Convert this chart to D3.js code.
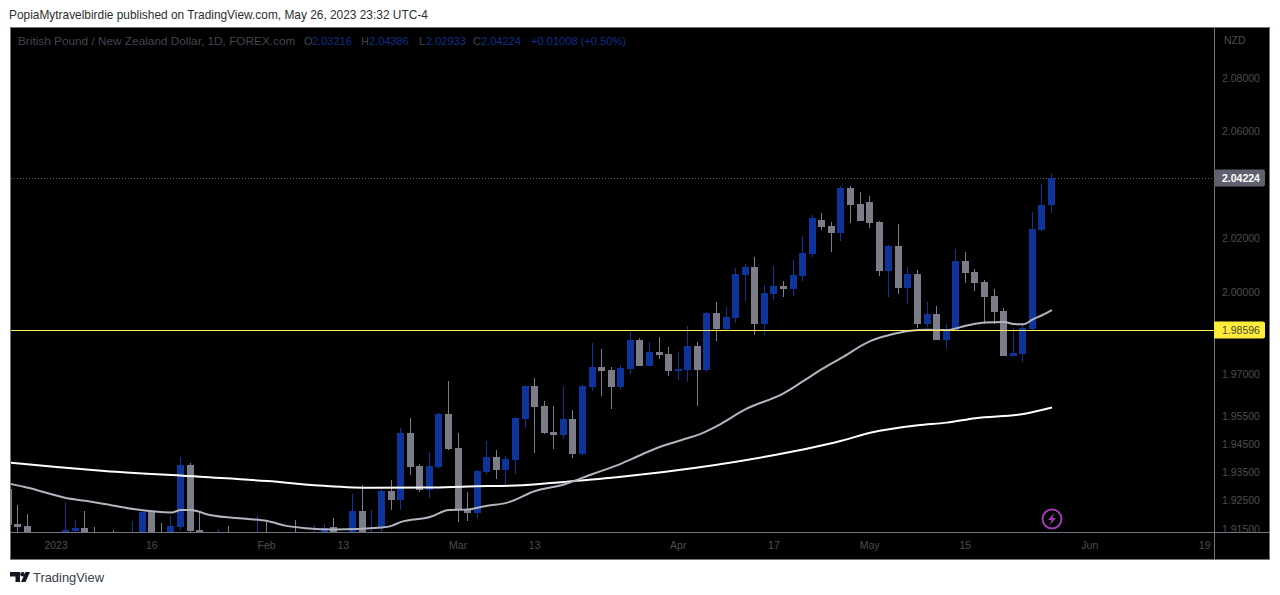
<!DOCTYPE html>
<html>
<head>
<meta charset="utf-8">
<script src="https://cdn.jsdelivr.net/npm/d3@7"></script>
<style>
  html, body { margin: 0; padding: 0; background: #fff; }
  svg { display: block; font-family: "Liberation Sans", sans-serif; }
</style>
</head>
<body>
<svg id="chart" width="1280" height="595"></svg>
<script>
// daily bars, index 0 = Jan 2 2023, weekdays only. bars fully under the pane are left out
const barIndex = [-5,-4,-3,1,2,3,4,6,8,9,10,11,12,13,14,15,17,18,21,22,25,27,28,29,31,32,33,34,35,36,37,38,39,40,41,42,43,44,45,46,47,48,49,50,51,52,53,54,55,56,57,58,59,60,61,62,63,64,65,66,67,68,69,70,71,72,73,74,75,76,77,78,79,80,81,82,83,84,85,86,87,88,89,90,91,92,93,94,95,96,97,98,99,100,101,102,103,104];
const opens = [1.9291,1.9168,1.9161,1.9126,1.9143,1.9154,1.9130,1.9128,1.9122,1.9126,1.9210,1.9130,1.9126,1.9157,1.9376,1.9147,1.9122,1.9130,1.9122,1.9130,1.9130,1.9122,1.9126,1.9157,1.9126,1.9214,1.9122,1.9157,1.9284,1.9252,1.9490,1.9372,1.9287,1.9369,1.9558,1.9436,1.9217,1.9207,1.9351,1.9404,1.9358,1.9394,1.9540,1.9658,1.9587,1.9493,1.9483,1.9540,1.9415,1.9655,1.9727,1.9716,1.9655,1.9720,1.9825,1.9730,1.9781,1.9774,1.9712,1.9716,1.9803,1.9716,1.9923,1.9865,1.9905,2.0063,2.0092,1.9883,1.9993,2.0022,2.0011,2.0059,2.0140,2.0266,2.0243,2.0217,2.0385,2.0325,2.0333,2.0258,2.0077,2.0169,2.0015,2.0066,1.9883,1.9920,1.9825,1.9858,2.0114,2.0074,2.0037,1.9985,1.9931,1.9767,1.9774,1.9865,2.0228,2.03216];
const highs = [1.9295,1.9234,1.9203,1.9245,1.9182,1.9214,1.9157,1.9147,1.9178,1.9210,1.9210,1.9171,1.9196,1.9404,1.9383,1.9207,1.9150,1.9161,1.9200,1.9175,1.9182,1.9164,1.9168,1.9189,1.9273,1.9305,1.9217,1.9291,1.9323,1.9508,1.9543,1.9380,1.9422,1.9561,1.9676,1.9490,1.9280,1.9358,1.9461,1.9429,1.9408,1.9547,1.9662,1.9687,1.9604,1.9587,1.9658,1.9572,1.9662,1.9814,1.9792,1.9727,1.9734,1.9854,1.9832,1.9818,1.9836,1.9799,1.9781,1.9876,1.9818,1.9927,1.9963,1.9945,2.0088,2.0103,2.0129,2.0026,2.0096,2.0040,2.0118,2.0206,2.0284,2.0292,2.0258,2.0393,2.0393,2.0370,2.0355,2.0262,2.0173,2.0251,2.0092,2.0081,1.9963,1.9949,1.9883,2.0158,2.0147,2.0085,2.0044,2.0011,1.9941,1.9869,1.9880,2.0296,2.0400,2.04386];
const lows = [1.9157,1.9126,1.9112,1.9112,1.9126,1.9112,1.9112,1.9112,1.9112,1.9112,1.9112,1.9112,1.9112,1.9147,1.9140,1.9112,1.9112,1.9112,1.9112,1.9112,1.9112,1.9112,1.9112,1.9112,1.9112,1.9112,1.9112,1.9135,1.9217,1.9217,1.9340,1.9280,1.9259,1.9362,1.9429,1.9175,1.9178,1.9189,1.9344,1.9326,1.9302,1.9344,1.9508,1.9418,1.9486,1.9433,1.9468,1.9401,1.9411,1.9640,1.9622,1.9576,1.9644,1.9702,1.9730,1.9730,1.9756,1.9694,1.9680,1.9673,1.9587,1.9709,1.9821,1.9858,1.9887,1.9967,1.9843,1.9843,1.9971,1.9982,1.9985,2.0040,2.0129,2.0228,2.0147,2.0187,2.0254,2.0262,2.0236,2.0059,1.9982,1.9993,1.9956,1.9869,1.9872,1.9825,1.9792,1.9858,2.0033,2.0004,1.9883,1.9883,1.9767,1.9767,1.9745,1.9858,2.0225,2.02933];
const closes = [1.9164,1.9157,1.9126,1.9147,1.9154,1.9126,1.9122,1.9122,1.9130,1.9210,1.9126,1.9126,1.9161,1.9376,1.9143,1.9126,1.9130,1.9122,1.9130,1.9122,1.9122,1.9130,1.9154,1.9126,1.9214,1.9126,1.9135,1.9284,1.9252,1.9490,1.9369,1.9287,1.9372,1.9558,1.9433,1.9217,1.9207,1.9355,1.9404,1.9358,1.9397,1.9543,1.9658,1.9583,1.9490,1.9483,1.9540,1.9415,1.9658,1.9727,1.9712,1.9655,1.9723,1.9825,1.9730,1.9781,1.9770,1.9712,1.9720,1.9803,1.9716,1.9923,1.9865,1.9909,2.0066,2.0092,1.9883,1.9996,2.0022,2.0011,2.0063,2.0144,2.0273,2.0240,2.0217,2.0385,2.0321,2.0262,2.0254,2.0077,2.0169,2.0015,2.0066,1.9883,1.9920,1.9825,1.9858,2.0114,2.0070,2.0033,1.9982,1.9927,1.9767,1.9777,1.9869,2.0232,2.0321,2.04224];

// moving averages, read at the bars listed
const slowIndex = [-5,0,5,15,22,28,33,39,43,48,53,59,67,74,78,82,85,90,93,96,101,104];
const slowMa = [1.9385,1.9369,1.9355,1.9334,1.9319,1.9302,1.9295,1.9296,1.9300,1.9303,1.9316,1.9334,1.9367,1.9405,1.9431,1.9462,1.9491,1.9518,1.9527,1.9543,1.9558,1.9581];
const fastIndex = [-5,-3,-1,1,3,5,8,12,13,14,16,20,22,24,26,29,34,35,36,39,41,43,45,47,50,53,56,59,60,63,66,67,69,72,76,78,80,82,85,87,89,91,93,95,97,99,100,101,102,103,104];
const fastMa = [1.9310,1.9295,1.9277,1.9259,1.9249,1.9238,1.9220,1.9208,1.9217,1.9217,1.9199,1.9185,1.9178,1.9161,1.9153,1.9148,1.9155,1.9161,1.9175,1.9192,1.9217,1.9219,1.9232,1.9242,1.9284,1.9307,1.9344,1.9381,1.9396,1.9440,1.9472,1.9483,1.9515,1.9575,1.9633,1.9676,1.9720,1.9760,1.9821,1.9843,1.9858,1.9862,1.9861,1.9877,1.9889,1.9890,1.9883,1.9882,1.9900,1.9916,1.9934];

const priceTicks = [2.08, 2.06, 2.02, 2.00, 1.97, 1.955, 1.945, 1.935, 1.925, 1.915];
const dateTickIndex = [0, 10, 22, 30, 42, 50, 65, 75, 85, 95, 108, 120];
const dateTickLabels = ["2023", "16", "Feb", "13", "Mar", "13", "Apr", "17", "May", "15", "Jun", "19"];

const lastPrice = 2.04224;
const levelPrice = 1.98596;
const legendTitle = "British Pound / New Zealand Dollar, 1D, FOREX.com";
const legendLabels = ["O", "H", "L", "C"];
const legendValues = ["2.03216", "2.04386", "2.02933", "2.04224"];
const legendChange = "+0.01008 (+0.50%)";
const publishedText = "PopiaMytravelbirdie published on TradingView.com, May 26, 2023 23:32 UTC-4";

const upColor = "#0e339b";
const downColor = "#7b7e89";
const axisText = "#4d4d50";
const frameColor = "#73757f";

const svg = d3.select("#chart");
const paneRight = 1214, paneBottom = 532;

const x = d3.scaleLinear().domain([0, 104]).range([56.1, 1051.5]);
const y = d3.scaleLog().domain([2.08, 1.915]).range([78, 529]);

svg.append("rect").attr("x", 10).attr("y", 27).attr("width", 1260).attr("height", 533).attr("fill", "#000");

const defs = svg.append("defs");
defs.append("clipPath").attr("id", "pane").append("rect")
  .attr("x", 11).attr("y", 28).attr("width", paneRight - 11).attr("height", paneBottom - 28);
defs.append("clipPath").attr("id", "scale").append("rect")
  .attr("x", paneRight).attr("y", 28).attr("width", 56).attr("height", paneBottom - 28);

// right price scale
const yAxis = d3.axisRight(y).tickValues(priceTicks).tickFormat(d3.format(".5f")).tickSize(0).tickPadding(8);
const yG = svg.append("g").attr("clip-path", "url(#scale)")
  .append("g").attr("transform", `translate(${paneRight},0)`).call(yAxis);
yG.select(".domain").remove();
yG.selectAll("text").attr("fill", axisText).attr("font-size", 10.5).attr("font-family", '"Liberation Sans", sans-serif');

// time scale
const xAxis = d3.axisBottom(x).tickValues(dateTickIndex)
  .tickFormat((d, i) => dateTickLabels[i]).tickSize(0).tickPadding(10);
const xG = svg.append("g").attr("transform", `translate(-0.5,${paneBottom})`).call(xAxis);
xG.select(".domain").remove();
xG.selectAll("text").attr("fill", axisText).attr("font-size", 10.5).attr("font-family", '"Liberation Sans", sans-serif');

const pane = svg.append("g").attr("clip-path", "url(#pane)");

// dotted last price line
pane.append("line")
  .attr("x1", 11).attr("x2", paneRight)
  .attr("y1", Math.round(y(lastPrice)) + 0.5).attr("y2", Math.round(y(lastPrice)) + 0.5)
  .attr("stroke", "#5c5e68").attr("stroke-dasharray", "1 2");

const bars = barIndex.map((d, i) => ({ i: d, o: opens[i], h: highs[i], l: lows[i], c: closes[i] }));
const candle = pane.append("g").attr("shape-rendering", "crispEdges")
  .selectAll("g").data(bars).join("g")
  .attr("fill", d => (d.c >= d.o ? upColor : downColor));

candle.append("rect")
  .attr("x", d => Math.floor(x(d.i)))
  .attr("width", 1)
  .attr("y", d => Math.round(y(d.h)))
  .attr("height", d => Math.max(1, Math.round(y(d.l)) - Math.round(y(d.h))));

candle.append("rect")
  .attr("x", d => Math.floor(x(d.i)) - 3)
  .attr("width", 7)
  .attr("y", d => Math.round(y(Math.max(d.o, d.c))))
  .attr("height", d => Math.max(1, Math.round(y(Math.min(d.o, d.c))) - Math.round(y(Math.max(d.o, d.c)))));

// moving averages
const maLine = d3.line().x(d => x(d[0]) + 0.5).y(d => y(d[1])).curve(d3.curveMonotoneX);
pane.append("path").datum(d3.zip(slowIndex, slowMa))
  .attr("d", maLine).attr("fill", "none").attr("stroke", "#ffffff").attr("stroke-width", 2);
pane.append("path").datum(d3.zip(fastIndex, fastMa))
  .attr("d", maLine).attr("fill", "none").attr("stroke", "#b2b5be").attr("stroke-width", 2);

// horizontal level
pane.append("line")
  .attr("x1", 11).attr("x2", paneRight)
  .attr("y1", Math.round(y(levelPrice)) + 0.5).attr("y2", Math.round(y(levelPrice)) + 0.5)
  .attr("stroke", "#ffee58").attr("stroke-width", 1);

// frame
const frame = svg.append("g").attr("stroke", frameColor).attr("shape-rendering", "crispEdges").attr("fill", "none");
frame.append("rect").attr("x", 10.5).attr("y", 27.5).attr("width", 1259).attr("height", 532);
frame.append("line").attr("x1", paneRight + 0.5).attr("x2", paneRight + 0.5).attr("y1", 27).attr("y2", 560);
frame.append("line").attr("x1", 10).attr("x2", 1270).attr("y1", paneBottom + 0.5).attr("y2", paneBottom + 0.5);

// price labels
function priceTag(price, fill, textFill, weight) {
  const cy = Math.round(y(price));
  svg.append("path")
    .attr("d", `M${paneRight},${cy - 8.5}H1263a2,2 0 0 1 2,2V${cy + 6.5}a2,2 0 0 1 -2,2H${paneRight}Z`)
    .attr("fill", fill);
  svg.append("text")
    .attr("x", 1222).attr("y", cy + 4)
    .attr("fill", textFill).attr("font-size", 10.5).attr("font-weight", weight)
    .text(price.toFixed(5));
}
priceTag(lastPrice, "#5f626e", "#ffffff", "bold");
priceTag(levelPrice, "#ffeb3b", "#4a4a32", "normal");

svg.append("text").attr("x", 1224).attr("y", 44).attr("fill", axisText).attr("font-size", 10.5).text("NZD");

// legend row
const legendY = 45;
const dimText = "#434651", valueText = "#0e2f8c";
svg.append("text").attr("x", 18).attr("y", legendY).attr("fill", dimText).attr("font-size", 11.8).text(legendTitle);
const labelX = [304, 361, 419, 473];
const valueX = [312, 369, 426, 481];
legendLabels.forEach((d, i) => {
  svg.append("text").attr("x", labelX[i]).attr("y", legendY).attr("fill", dimText).attr("font-size", 11).text(d);
  svg.append("text").attr("x", valueX[i]).attr("y", legendY).attr("fill", valueText).attr("font-size", 11).text(legendValues[i]);
});
svg.append("text").attr("x", 531).attr("y", legendY).attr("fill", valueText).attr("font-size", 11.1).text(legendChange);

// published line
svg.append("text").attr("x", 9).attr("y", 19).attr("fill", "#2e2e2e").attr("font-size", 11.9).text(publishedText);

// bolt badge
const bolt = svg.append("g").attr("transform", `translate(${Math.round(x(104))},519)`);
bolt.append("circle").attr("r", 9.5).attr("fill", "none").attr("stroke", "#9c3bb0").attr("stroke-width", 2);
bolt.append("path").attr("d", "M2,-6L-4,1H-0.5L-2,6L4,-1H0.5Z").attr("fill", "#9c3bb0");

// logo
const logo = svg.append("g").attr("fill", "#131722");
logo.append("path").attr("d", "M10,572H20V582H15.5V576.5H10Z");
logo.append("circle").attr("cx", 22.5).attr("cy", 574.2).attr("r", 2.2);
logo.append("path").attr("d", "M25.5,572H30L25.5,582H21Z");
svg.append("text").attr("x", 33).attr("y", 582).attr("fill", "#3a3d45").attr("font-size", 12.9).text("TradingView");
</script>
</body>
</html>
